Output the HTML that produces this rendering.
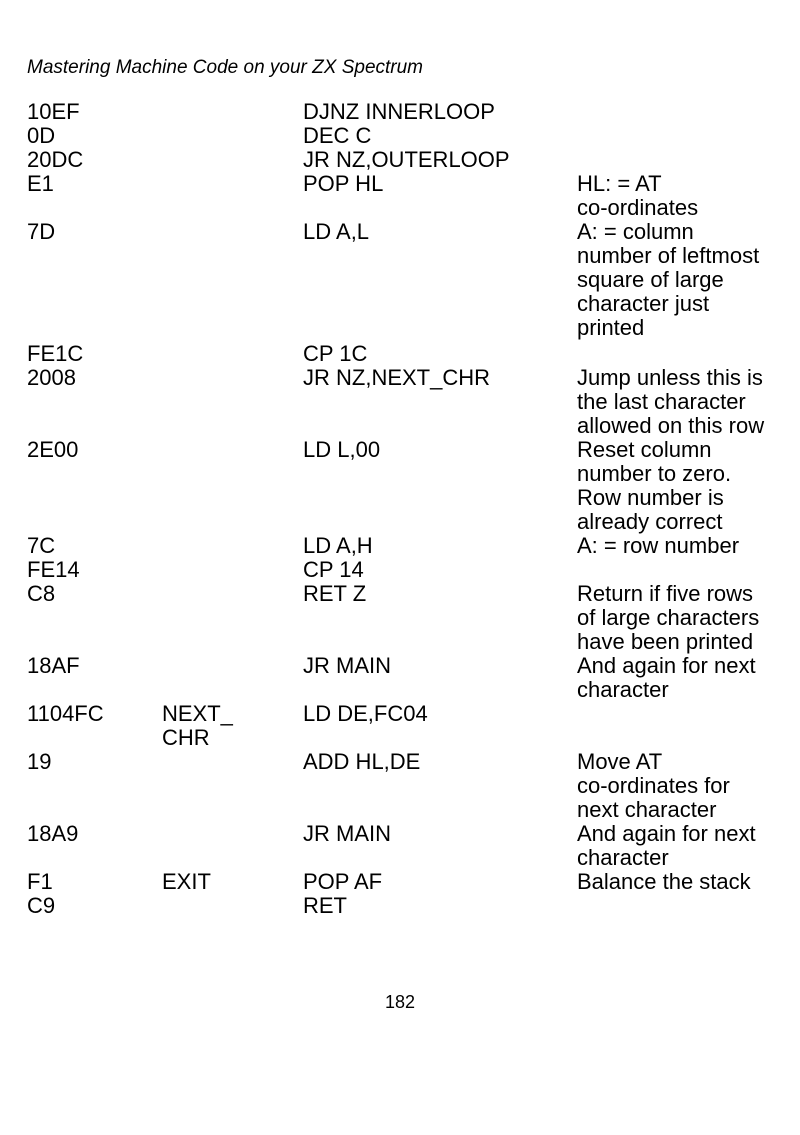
<!DOCTYPE html>
<html><head><meta charset="utf-8"><style>
html,body{margin:0;padding:0;background:#fff;}
body{width:800px;height:1135px;position:relative;overflow:hidden;font-family:"Liberation Sans",Arial,sans-serif;color:#000;}
.h{position:absolute;left:27px;top:57px;font-size:19px;line-height:22px;font-style:italic;white-space:nowrap;}
.r{position:absolute;font-size:22px;line-height:24px;white-space:nowrap;}
.a{left:27px}.b{left:162px}.c{left:303px}.d{left:577px}
.pg{position:absolute;left:0;width:800px;text-align:center;top:992px;font-size:18px;}
</style></head><body>
<div class="h">Mastering Machine Code on your ZX Spectrum</div>

<div class="r a" style="top:100px">10EF<br>0D<br>20DC<br>E1<br><br>7D</div>
<div class="r c" style="top:100px">DJNZ INNERLOOP<br>DEC C<br>JR NZ,OUTERLOOP<br>POP HL<br><br>LD A,L</div>
<div class="r d" style="top:172px">HL: = AT<br>co-ordinates<br>A: = column<br>number of leftmost<br>square of large<br>character just<br>printed</div>

<div class="r a" style="top:342px">FE1C<br>2008<br><br><br>2E00<br><br><br><br>7C<br>FE14<br>C8<br><br><br>18AF<br><br>1104FC<br><br>19<br><br><br>18A9<br><br>F1<br>C9</div>
<div class="r b" style="top:702px">NEXT_<br>CHR<br><br><br><br><br><br>EXIT</div>
<div class="r c" style="top:342px">CP 1C<br>JR NZ,NEXT_CHR<br><br><br>LD L,00<br><br><br><br>LD A,H<br>CP 14<br>RET Z<br><br><br>JR MAIN<br><br>LD DE,FC04<br><br>ADD HL,DE<br><br><br>JR MAIN<br><br>POP AF<br>RET</div>
<div class="r d" style="top:366px">Jump unless this is<br>the last character<br>allowed on this row<br>Reset column<br>number to zero.<br>Row number is<br>already correct<br>A: = row number<br><br>Return if five rows<br>of large characters<br>have been printed<br>And again for next<br>character<br><br><br>Move AT<br>co-ordinates for<br>next character<br>And again for next<br>character<br>Balance the stack</div>

<div class="pg">182</div>
</body></html>
